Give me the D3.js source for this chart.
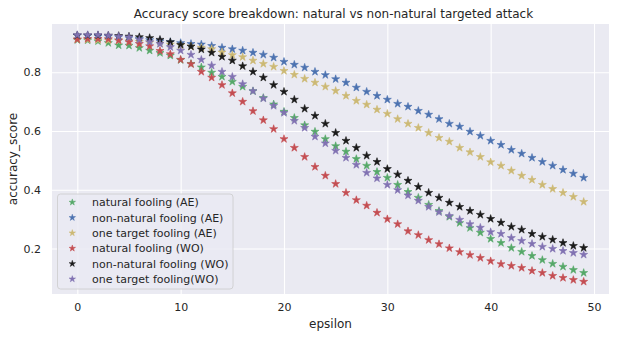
<!DOCTYPE html>
<html><head><meta charset="utf-8">
<script src="https://cdn.jsdelivr.net/npm/d3@7"></script>
<style>body{margin:0;background:#fff;}svg{display:block;font-family:"DejaVu Sans",sans-serif;}</style>
</head><body><div id="chart"></div>
<script>
const epsilon = d3.range(0, 50);
const seriesNames = ["natural fooling (AE)","non-natural fooling (AE)","one target fooling (AE)","natural fooling (WO)","non-natural fooling (WO)","one target fooling(WO)"];
const seriesColors = ["#55a868","#4c72b0","#ccb974","#c44e52","#1a1a1a","#8172b2"];
const naturalAE = [0.910,0.909,0.906,0.900,0.892,0.891,0.883,0.874,0.866,0.857,0.842,0.829,0.817,0.799,0.785,0.768,0.751,0.736,0.713,0.691,0.666,0.645,0.620,0.598,0.573,0.549,0.530,0.505,0.482,0.461,0.441,0.417,0.393,0.373,0.349,0.328,0.308,0.287,0.270,0.254,0.233,0.219,0.202,0.189,0.175,0.161,0.148,0.138,0.127,0.117];
const nonNaturalAE = [0.925,0.924,0.923,0.922,0.920,0.917,0.914,0.910,0.906,0.903,0.900,0.897,0.895,0.890,0.884,0.879,0.874,0.867,0.860,0.850,0.836,0.826,0.816,0.802,0.791,0.777,0.765,0.748,0.734,0.720,0.707,0.693,0.683,0.669,0.656,0.641,0.625,0.615,0.598,0.584,0.567,0.553,0.536,0.523,0.509,0.495,0.482,0.468,0.455,0.441];
const oneTargetAE = [0.912,0.911,0.910,0.909,0.908,0.906,0.904,0.901,0.898,0.895,0.892,0.888,0.884,0.879,0.868,0.859,0.852,0.840,0.829,0.819,0.805,0.792,0.778,0.765,0.751,0.737,0.720,0.703,0.690,0.673,0.659,0.641,0.625,0.611,0.594,0.577,0.564,0.543,0.528,0.512,0.494,0.482,0.465,0.448,0.434,0.417,0.403,0.390,0.376,0.359];
const naturalWO = [0.912,0.914,0.914,0.913,0.909,0.903,0.897,0.889,0.873,0.862,0.843,0.828,0.802,0.782,0.757,0.729,0.700,0.668,0.637,0.607,0.573,0.543,0.512,0.478,0.448,0.420,0.390,0.365,0.346,0.322,0.300,0.283,0.259,0.246,0.229,0.215,0.201,0.188,0.178,0.168,0.157,0.147,0.141,0.134,0.124,0.117,0.107,0.100,0.093,0.087];
const nonNaturalWO = [0.926,0.926,0.926,0.925,0.924,0.922,0.920,0.917,0.911,0.903,0.894,0.888,0.878,0.867,0.853,0.840,0.821,0.802,0.782,0.757,0.734,0.707,0.676,0.652,0.625,0.594,0.567,0.543,0.516,0.495,0.471,0.452,0.431,0.410,0.390,0.373,0.356,0.342,0.328,0.315,0.301,0.288,0.274,0.264,0.250,0.240,0.230,0.219,0.209,0.202];
const oneTargetWO = [0.927,0.927,0.927,0.925,0.922,0.919,0.911,0.903,0.897,0.886,0.874,0.860,0.843,0.823,0.802,0.785,0.760,0.736,0.711,0.686,0.662,0.635,0.611,0.581,0.558,0.533,0.509,0.485,0.458,0.439,0.417,0.399,0.381,0.363,0.342,0.324,0.311,0.298,0.283,0.271,0.256,0.250,0.236,0.226,0.216,0.206,0.199,0.192,0.185,0.179];
const xTicks = [0,10,20,30,40,50];
const yTicks = [0.2,0.4,0.6,0.8];
const seriesValues = [naturalAE, nonNaturalAE, oneTargetAE, naturalWO, nonNaturalWO, oneTargetWO];

const W = 622, H = 338;
const plot = {left:52, right:609, top:24, bottom:294};
const x = d3.scaleLinear().domain([-2.45, 51.45]).range([plot.left, plot.right]);
const y = d3.scaleLinear().domain([0.045, 0.9645]).range([plot.bottom, plot.top]);

const svg = d3.select("#chart").append("svg").attr("width", W).attr("height", H);
svg.append("rect").attr("x", plot.left).attr("y", plot.top).attr("width", plot.right-plot.left).attr("height", plot.bottom-plot.top).attr("fill", "#eaeaf2");

const xAxis = svg.append("g").attr("transform", `translate(0,${plot.bottom})`)
  .call(d3.axisBottom(x).tickValues(xTicks).tickSize(-(plot.bottom-plot.top)).tickPadding(9).tickFormat(d3.format("d")));
const yAxis = svg.append("g").attr("transform", `translate(${plot.left},0)`)
  .call(d3.axisLeft(y).tickValues(yTicks).tickSize(-(plot.right-plot.left)).tickPadding(11).tickFormat(d3.format(".1f")));
[xAxis, yAxis].forEach(g => {
  g.select(".domain").remove();
  g.selectAll(".tick line").attr("stroke", "#fff").attr("stroke-width", 1.1);
  g.selectAll(".tick text").attr("fill", "#262626").style("font-size", "11px").style("font-family", "DejaVu Sans");
});

const star = d3.symbol().type(d3.symbolStar).size(20);
const legStar = d3.symbol().type(d3.symbolStar).size(13);
seriesValues.forEach((vals, si) => {
  svg.append("g").selectAll("path").data(vals).join("path")
    .attr("d", star)
    .attr("transform", (d, i) => `translate(${x(epsilon[i])},${y(d)})`)
    .attr("fill", seriesColors[si])
    .attr("stroke", seriesColors[si]).attr("stroke-width", 0.6);
});

svg.append("text").attr("x", (plot.left+plot.right)/2 + 3).attr("y", 18).attr("text-anchor", "middle")
  .attr("fill", "#262626").style("font-size", "12px").text("Accuracy score breakdown: natural vs non-natural targeted attack");
svg.append("text").attr("x", (plot.left+plot.right)/2).attr("y", 328).attr("text-anchor", "middle")
  .attr("fill", "#262626").style("font-size", "12px").text("epsilon");
svg.append("text").attr("transform", `translate(17,${(plot.top+plot.bottom)/2}) rotate(-90)`).attr("text-anchor", "middle")
  .attr("fill", "#262626").style("font-size", "12px").text("accuracy_score");

const leg = svg.append("g");
leg.append("rect").attr("x", 57.5).attr("y", 194).attr("width", 175.5).attr("height", 95).attr("rx", 3)
  .attr("fill", "#eaeaf2").attr("fill-opacity", 0.8).attr("stroke", "#cccccc").attr("stroke-width", 0.8);
seriesNames.forEach((name, i) => {
  const cy = 202.3 + i*15.35;
  leg.append("path").attr("d", legStar).attr("transform", `translate(72.3,${cy})`)
    .attr("fill", seriesColors[i]).attr("stroke", seriesColors[i]).attr("stroke-width", 0.5);
  leg.append("text").attr("x", 92).attr("y", cy + 4).attr("fill", "#262626").style("font-size", "11px").text(name);
});
</script></body></html>
